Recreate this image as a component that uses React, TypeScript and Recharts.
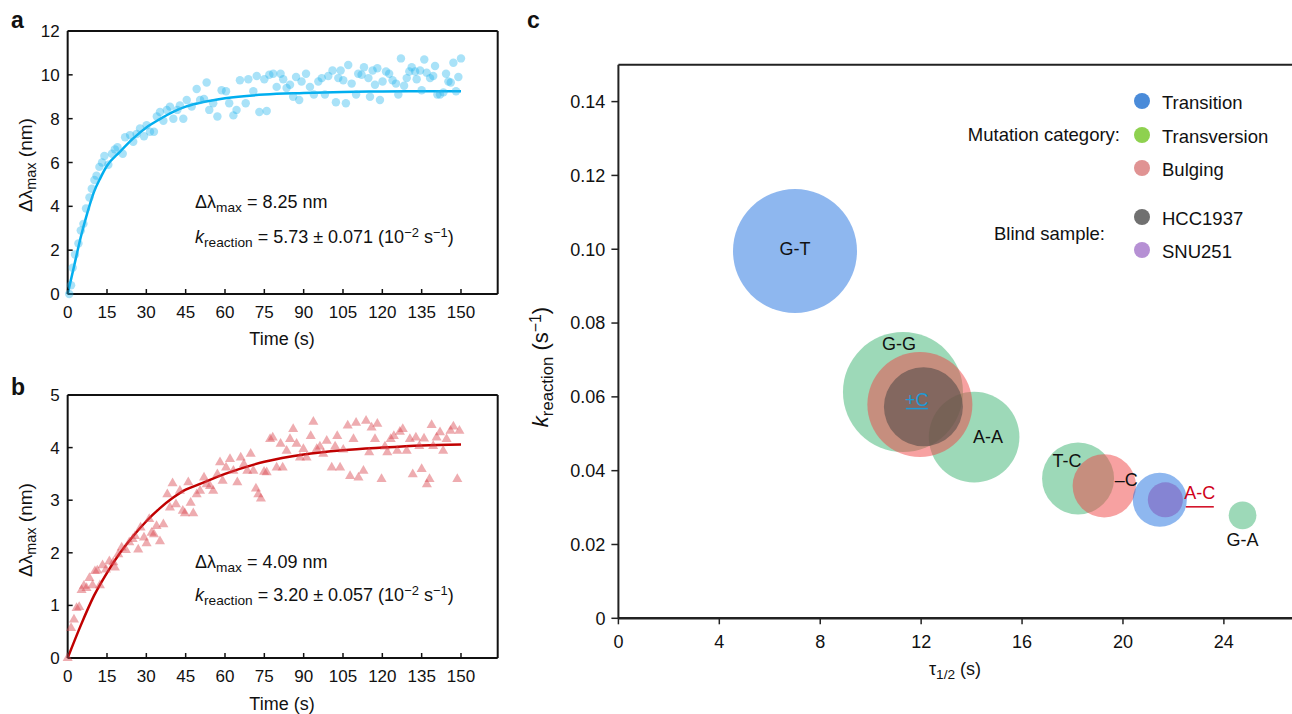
import React from "react";
import {
  ComposedChart, ScatterChart, Scatter, Line, XAxis, YAxis, ZAxis, ReferenceLine,
} from "recharts";

const FONT = "'Liberation Sans', Arial, Helvetica, sans-serif";
const INK = "#111111";

// shared time axis for panels a and b
const timeTicks = [0, 15, 30, 45, 60, 75, 90, 105, 120, 135, 150];
const shiftTicksA = [0, 2, 4, 6, 8, 10, 12];
const shiftTicksB = [0, 1, 2, 3, 4, 5];

// panel a – measured shift (nm) vs time (s)
const timeA = [0.6, 1.3, 1.9, 2.8, 4.1, 5, 6, 7, 8.3, 9.2, 10.2, 11, 12.1, 13.1, 14, 15.5, 16.9, 18, 19, 21,
  21.9, 23.8, 25, 26.3, 27.6, 29.1, 30.1, 31.4, 32.9, 34, 35.2, 36.5, 37.8, 39, 40.3, 41.8, 42.8, 44.1, 45.4, 47.3,
  49.2, 50.5, 52, 53, 54, 55.5, 57.1, 58.7, 60.4, 61.6, 63.2, 64.4, 65.7, 67.9, 68.9, 70.8, 72.1, 73.1, 75, 75.9,
  76.9, 78.4, 79.7, 81.2, 82.2, 83.5, 84.8, 86, 87.1, 88.3, 89.2, 90.9, 92.4, 93.9, 95.6, 96.9, 98.1, 99.4, 101, 102.3,
  103.2, 104.1, 105.1, 106.1, 107, 108.3, 110, 110.8, 112.1, 113, 114.7, 115.3, 116.3, 117.2, 118.1, 119.1, 120.1, 121.4, 122.6, 123.9,
  125.2, 126.1, 127.1, 128.3, 129.3, 130.3, 131.2, 132.5, 133.1, 134.4, 135, 136, 136.9, 138.2, 139.4, 140.1, 141, 142, 143.3, 144.3,
  145.2, 146.1, 147.1, 148.1, 149, 150];
const shiftA = [0, 0.4, 1.2, 1.8, 2.3, 2.9, 3.2, 3.9, 4.4, 4.8, 5.2, 5.4, 5.8, 6.0, 6.3, 5.9, 6.4, 6.6, 6.7, 6.4,
  7.15, 7.25, 6.95, 7.3, 7.55, 7.2, 7.7, 7.4, 7.4, 8.1, 8.3, 7.9, 8.4, 8.55, 8.0, 8.4, 8.6, 8.0, 8.85, 8.55,
  9.35, 8.85, 8.9, 9.65, 8.4, 8.7, 8.1, 9.3, 9.25, 8.7, 8.15, 8.4, 9.75, 8.7, 9.8, 9.25, 9.95, 8.3, 9.8, 8.35,
  10, 10.05, 9.45, 10.05, 9.8, 9.4, 9.55, 9.0, 9.9, 8.85, 9.7, 10.05, 9.45, 9.1, 9.7, 9.85, 9.1, 9.95, 10.2, 8.75,
  9.85, 10.2, 9.75, 8.7, 10.45, 9.6, 9.1, 10.05, 10, 10.35, 9.85, 9.0, 10.2, 9.55, 10.3, 8.85, 9.7, 10.15, 10.05, 9.75,
  9.6, 9.1, 10.75, 9.5, 9.85, 10.15, 10.35, 10.15, 9.8, 10.2, 9.3, 10.7, 10.1, 9.85, 9.95, 10.4, 9.1, 9.1, 9.2, 10.05,
  9.7, 9.65, 10.55, 9.25, 9.9, 10.75];
const fitTimeA = [0, 2.5, 5, 7.5, 10, 12.5, 15, 20, 25, 30, 35, 40, 45, 50, 60, 75, 90, 105, 120, 135, 150];
const fitShiftA = [0, 1.3, 2.6, 3.7, 4.65, 5.3, 5.85, 6.5, 7.1, 7.6, 7.97, 8.3, 8.55, 8.71, 8.93, 9.1, 9.17, 9.22, 9.24, 9.25, 9.25];

// panel b
const timeB = [0, 1.3, 2.4, 3.4, 4.4, 5.3, 6.2, 7.2, 8.3, 9.5, 10.4, 11.3, 12.3, 13.3, 14.6, 15.9, 17.4, 18, 19.3, 20.6,
  22.2, 23.5, 24.8, 25.7, 26.9, 27.8, 29.1, 30.1, 31.1, 32, 32.9, 33.9, 35.2, 36.5, 38, 39, 40, 41.3, 42.8, 43.9,
  44.7, 46, 46.9, 47.9, 49.2, 50.5, 52, 53, 54.3, 55.5, 57.1, 58.1, 59.1, 60.4, 61.9, 63.2, 64.7, 66, 67.2, 68.5,
  69.8, 70.8, 71.8, 72.7, 73.7, 74.9, 75.9, 77.2, 78.2, 79.7, 81.2, 82, 83.5, 84.8, 86, 87.3, 88.6, 89.9, 91.1, 92.7,
  93.7, 95, 96.2, 97.5, 98.8, 100.7, 102, 102.8, 103.9, 105.1, 106.8, 107.7, 109, 110, 110.9, 112.8, 113.8, 115, 115.9, 117.2,
  118.1, 119.7, 121, 121.9, 123.2, 124.4, 125.7, 126.7, 127.8, 129.3, 130.5, 131.6, 132.8, 134.1, 135, 135.9, 137, 138, 138.8, 139.4,
  140.7, 142, 143.2, 144.5, 146, 147.1, 148.6, 149.4];
const shiftB = [0, 0.57, 0.73, 0.95, 0.97, 1.29, 1.37, 1.33, 1.52, 1.38, 1.65, 1.66, 1.38, 1.76, 1.68, 1.84, 1.82, 1.72, 1.97, 2.1,
  2.05, 2.2, 2.26, 2.32, 2.06, 2.48, 2.29, 2.18, 2.64, 2.38, 2.35, 2.51, 2.22, 2.54, 3.11, 2.86, 3.32, 2.92, 3.18, 2.8,
  2.75, 3.34, 2.95, 2.75, 3.11, 3.18, 3.43, 3.3, 3.27, 3.18, 3.49, 3.72, 3.37, 3.62, 3.78, 3.56, 3.34, 3.81, 3.68, 3.56,
  3.88, 3.56, 3.22, 3.11, 3.03, 3.54, 3.53, 4.16, 4.19, 3.62, 4.07, 3.62, 3.94, 4.16, 4.35, 4.07, 3.81, 3.97, 3.81, 4.22,
  4.49, 3.97, 4.02, 3.88, 4.13, 3.62, 4.02, 4.22, 3.62, 3.96, 4.42, 3.46, 4.16, 4.47, 3.43, 3.56, 4.51, 3.91, 4.38, 4.16,
  4.45, 3.4, 4.02, 3.91, 4.16, 4.22, 3.94, 4.3, 4.35, 3.94, 4.16, 3.49, 4.19, 4.03, 3.59, 4.17, 3.3, 3.4, 4.43, 4.03,
  4.19, 4.29, 3.94, 4.16, 4.32, 4.4, 3.4, 4.32];
const fitTimeB = [0, 5, 10, 15, 20, 25, 30, 35, 40, 45, 50, 60, 75, 90, 105, 120, 135, 150];
const fitShiftB = [0, 0.62, 1.18, 1.62, 2.0, 2.32, 2.6, 2.84, 3.04, 3.2, 3.3, 3.5, 3.73, 3.87, 3.95, 4.0, 4.04, 4.06];

// panel c – half-life vs rate constant, bubble size in relative units
const tauTicks = [0, 4, 8, 12, 16, 20, 24];
const kTicks = [0, 0.02, 0.04, 0.06, 0.08, 0.1, 0.12, 0.14];
const transition = [
  { name: "G-T", tau: 7.0, k: 0.0995, size: 100 },
  { name: "A-C", tau: 21.46, k: 0.0321, size: 19 },
];
const transversion = [
  { name: "G-G", tau: 11.28, k: 0.0613, size: 93.7 },
  { name: "A-A", tau: 14.1, k: 0.0491, size: 53.4 },
  { name: "T-C", tau: 18.22, k: 0.0379, size: 33.7 },
  { name: "G-A", tau: 24.74, k: 0.0279, size: 5 },
];
const bulging = [
  { name: "+C", tau: 11.95, k: 0.0579, size: 71.7 },
  { name: "–C", tau: 19.26, k: 0.0359, size: 26.1 },
];
const hcc1937 = [{ name: "HCC1937", tau: 12.09, k: 0.0573, size: 40.6 }];
const snu251 = [{ name: "SNU251", tau: 21.68, k: 0.0321, size: 8 }];

const labelStyle: Record<string, { dx: number; dy: number; color?: string; underline?: number; uw?: number }> = {
  "G-T": { dx: 0, dy: -2 },
  "G-G": { dx: -4, dy: -48 },
  "+C": { dx: -3, dy: -5, color: "#1d9ad6", underline: 9, uw: 22 },
  "A-A": { dx: 14, dy: 0 },
  "T-C": { dx: -11, dy: -17 },
  "–C": { dx: 22, dy: -6 },
  "A-C": { dx: 40, dy: -7, color: "#d0021b", underline: 14, uw: 28 },
  "G-A": { dx: 0, dy: 25 },
};

const zip = (xs: number[], ys: number[]) => xs.map((t, i) => ({ t, v: ys[i] }));

function BubbleLabel(props: any) {
  const name = props.payload?.name;
  const s = labelStyle[name];
  if (!s) return null;
  const x = props.cx + s.dx;
  const y = props.cy + s.dy;
  return (
    <g>
      <text x={x} y={y} textAnchor="middle" dominantBaseline="central" fontSize={18} fontFamily={FONT} fill={s.color || INK}>
        {name}
      </text>
      {s.underline ? (
        <line x1={x - s.uw! / 2} x2={x + s.uw! / 2} y1={y + s.underline} y2={y + s.underline} stroke={s.color} strokeWidth={1.5} />
      ) : null}
    </g>
  );
}

const Sub = ({ children }: { children: React.ReactNode }) => (
  <span style={{ fontSize: "0.76em", position: "relative", top: "0.3em" }}>{children}</span>
);
const Sup = ({ children }: { children: React.ReactNode }) => (
  <span style={{ fontSize: "0.72em", position: "relative", top: "-0.45em" }}>{children}</span>
);

function KineticsPanel(props: {
  points: { t: number; v: number }[];
  fit: { t: number; v: number }[];
  yMax: number;
  yTicks: number[];
  dotColor: string;
  lineColor: string;
  shape: "circle" | "triangle";
  size: number;
}) {
  const { points, fit, yMax, yTicks, dotColor, lineColor, shape, size } = props;
  const tickStyle = { fill: INK, fontSize: 17, fontFamily: FONT };
  return (
    <ComposedChart width={510} height={335} margin={{ top: 31, right: 12.3, bottom: 0, left: 0 }}>
      <XAxis type="number" dataKey="t" domain={[0, 164]} ticks={timeTicks} interval={0} height={41}
        axisLine={{ stroke: INK, strokeWidth: 2 }} tickLine={{ stroke: INK, strokeWidth: 1.5 }}
        tickSize={-5} tickMargin={17} tick={tickStyle} />
      <YAxis type="number" dataKey="v" domain={[0, yMax]} ticks={yTicks} interval={0} width={67.67}
        axisLine={{ stroke: INK, strokeWidth: 2 }} tickLine={{ stroke: INK, strokeWidth: 1.5 }}
        tickSize={-5} tickMargin={13} tick={tickStyle} />
      <ZAxis range={[size, size]} />
      <ReferenceLine y={yMax} stroke={INK} strokeWidth={2} />
      <ReferenceLine x={164} stroke={INK} strokeWidth={2} />
      <Scatter data={points} fill={dotColor} shape={shape} isAnimationActive={false} />
      <Line data={fit} dataKey="v" type="monotone" stroke={lineColor} strokeWidth={2.5} dot={false} isAnimationActive={false} />
    </ComposedChart>
  );
}

const abs = (left: number, top: number, extra: React.CSSProperties = {}): React.CSSProperties => ({
  position: "absolute", left, top, whiteSpace: "nowrap", lineHeight: 1, ...extra,
});

export default function App() {
  const allBubbles = [...transition, ...transversion, ...bulging];
  const cTick = { fill: INK, fontSize: 18, fontFamily: FONT };
  const legendItems = [
    { label: "Transition", color: "#4a8bd9", y: 101 },
    { label: "Transversion", color: "#8ed14f", y: 135 },
    { label: "Bulging", color: "#e09393", y: 168 },
    { label: "HCC1937", color: "#707070", y: 217 },
    { label: "SNU251", color: "#b690d4", y: 250 },
  ];
  return (
    <div style={{ position: "fixed", left: 0, top: 0, width: 1292, height: 714, overflow: "hidden", background: "#fff", fontFamily: FONT, color: INK }}>
      {/* panel letters */}
      <div style={abs(11, 8.5, { fontSize: 23, fontWeight: "bold" })}>a</div>
      <div style={abs(11, 375.5, { fontSize: 23, fontWeight: "bold" })}>b</div>
      <div style={abs(527, 8.5, { fontSize: 23, fontWeight: "bold" })}>c</div>

      <div style={abs(0, 0)}>
        <KineticsPanel points={zip(timeA, shiftA)} fit={zip(fitTimeA, fitShiftA)} yMax={12} yTicks={shiftTicksA}
          dotColor="rgba(41,182,238,0.4)" lineColor="#00aeef" shape="circle" size={56} />
      </div>
      <div style={abs(0, 364)}>
        <KineticsPanel points={zip(timeB, shiftB)} fit={zip(fitTimeB, fitShiftB)} yMax={5} yTicks={shiftTicksB}
          dotColor="rgba(217,71,79,0.45)" lineColor="#c00000" shape="triangle" size={44} />
      </div>

      {/* axis titles, panels a & b */}
      <div style={abs(25, 165, { fontSize: 19, transform: "translate(-50%,-50%) rotate(-90deg)" })}>Δλ<Sub>max</Sub> (nm)</div>
      <div style={abs(25, 530, { fontSize: 19, transform: "translate(-50%,-50%) rotate(-90deg)" })}>Δλ<Sub>max</Sub> (nm)</div>
      <div style={abs(282, 339, { fontSize: 18, transform: "translate(-50%,-50%)" })}>Time (s)</div>
      <div style={abs(282, 704, { fontSize: 18, transform: "translate(-50%,-50%)" })}>Time (s)</div>

      {/* fit annotations */}
      <div style={abs(195, 202, { fontSize: 18, transform: "translateY(-50%)" })}>Δλ<Sub>max</Sub> = 8.25 nm</div>
      <div style={abs(195, 237, { fontSize: 18, transform: "translateY(-50%)" })}><i>k</i><Sub>reaction</Sub> = 5.73 ± 0.071 (10<Sup>−2</Sup> s<Sup>−1</Sup>)</div>
      <div style={abs(195, 562, { fontSize: 18, transform: "translateY(-50%)" })}>Δλ<Sub>max</Sub> = 4.09 nm</div>
      <div style={abs(195, 595, { fontSize: 18, transform: "translateY(-50%)" })}><i>k</i><Sub>reaction</Sub> = 3.20 ± 0.057 (10<Sup>−2</Sup> s<Sup>−1</Sup>)</div>

      {/* panel c */}
      <div style={abs(520, 0)}>
        <ScatterChart width={772} height={714} margin={{ top: 64.7, right: 0, bottom: 0, left: 0 }}>
          <XAxis type="number" dataKey="tau" domain={[0, 26.7]} ticks={tauTicks} interval={0} height={95.7}
            axisLine={{ stroke: "#222", strokeWidth: 2.5 }} tickLine={{ stroke: "#222", strokeWidth: 1.5 }}
            tickSize={6} tickMargin={11} tick={cTick} />
          <YAxis type="number" dataKey="k" domain={[0, 0.15]} ticks={kTicks} interval={0} width={98.4}
            axisLine={{ stroke: "#222", strokeWidth: 2 }} tickLine={{ stroke: "#222", strokeWidth: 1.5 }}
            tickSize={7} tickMargin={6} tick={cTick}
            tickFormatter={(v: number) => (v === 0 ? "0" : v.toFixed(2))} />
          <ZAxis type="number" dataKey="size" domain={[0, 100]} range={[0, Math.PI * 62 * 62]} />
          <ReferenceLine y={0.15} stroke="#222" strokeWidth={2} />
          <Scatter data={transversion} fill="rgba(60,179,113,0.5)" isAnimationActive={false} />
          <Scatter data={bulging} fill="rgba(239,68,68,0.5)" isAnimationActive={false} />
          <Scatter data={transition} fill="rgba(30,111,224,0.5)" isAnimationActive={false} />
          <Scatter data={hcc1937} fill="rgba(64,64,64,0.5)" isAnimationActive={false} />
          <Scatter data={snu251} fill="rgba(123,82,184,0.5)" isAnimationActive={false} />
          <Scatter data={allBubbles} fill="none" shape={BubbleLabel} isAnimationActive={false} />
        </ScatterChart>
      </div>

      <div style={abs(541, 367, { fontSize: 22, transform: "translate(-50%,-50%) rotate(-90deg)" })}><i>k</i><Sub>reaction</Sub> (s<Sup>−1</Sup>)</div>
      <div style={abs(955, 669, { fontSize: 18, transform: "translate(-50%,-50%)" })}>τ<Sub>1/2</Sub> (s)</div>

      {/* legend */}
      <svg width={1292} height={714} style={{ position: "absolute", left: 0, top: 0, pointerEvents: "none" }}>
        <text x={1120} y={134} textAnchor="end" dominantBaseline="central" fontSize={18.5} fontFamily={FONT} fill={INK}>Mutation category:</text>
        <text x={1105} y={233} textAnchor="end" dominantBaseline="central" fontSize={18.5} fontFamily={FONT} fill={INK}>Blind sample:</text>
        {legendItems.map((it) => (
          <g key={it.label}>
            <circle cx={1142} cy={it.y} r={8} fill={it.color} />
            <text x={1162} y={it.y + 1} dominantBaseline="central" fontSize={18.5} fontFamily={FONT} fill={INK}>{it.label}</text>
          </g>
        ))}
      </svg>
    </div>
  );
}
